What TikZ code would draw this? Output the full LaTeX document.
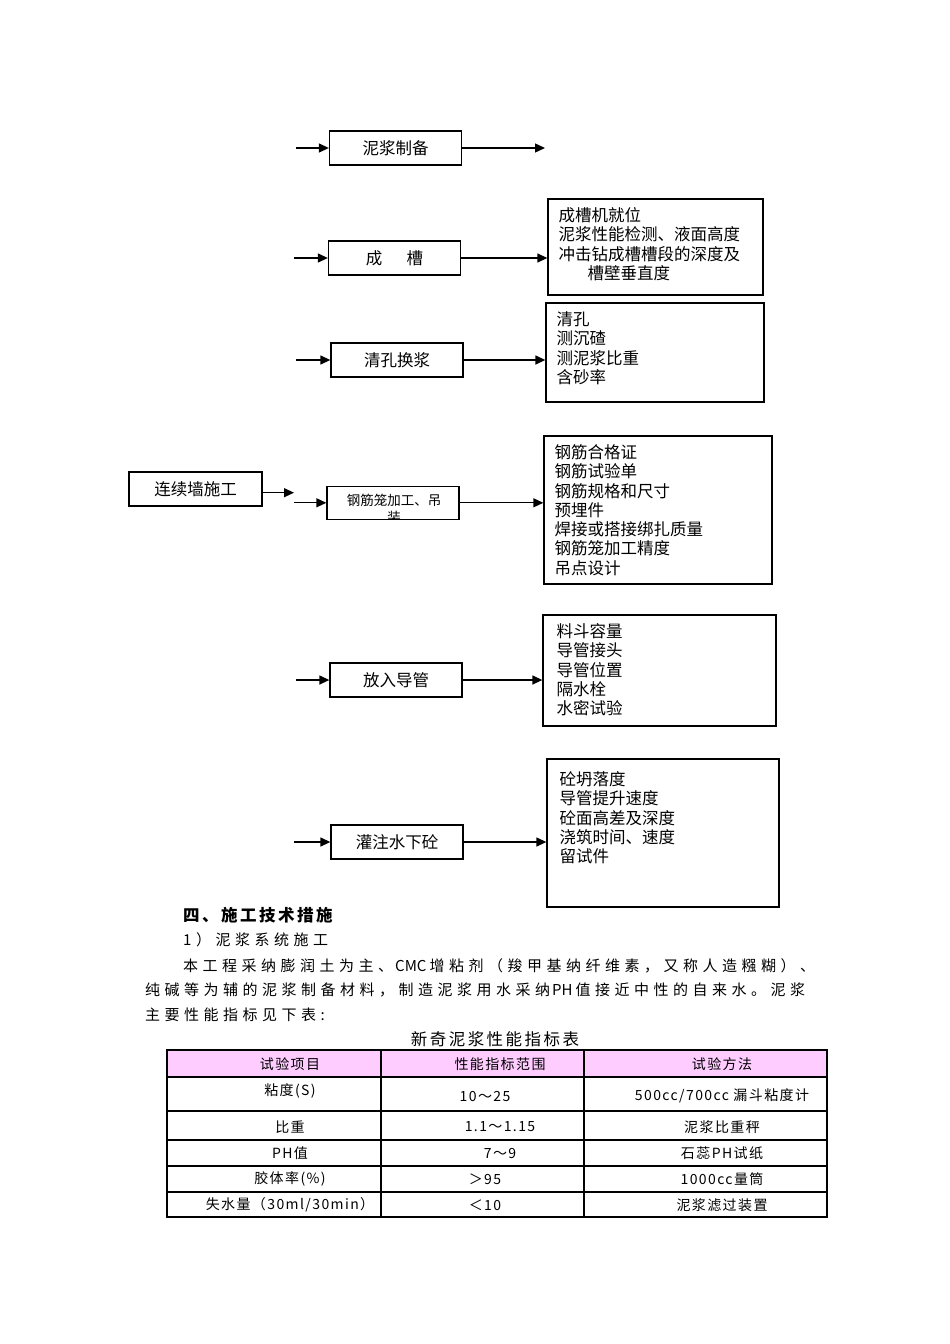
\documentclass[tikz,border=0pt]{standalone}
\usepackage{fontspec}
\usepackage{tikz}
\usepackage{xcolor}
\usetikzlibrary{arrows.meta}
\usetikzlibrary{positioning}
\newfontfamily\cjk{Noto Sans CJK SC}
\newfontfamily\cjkwide{Noto Sans CJK SC}[LetterSpace=30]
\newfontfamily\cjkmid{Noto Sans CJK SC}[LetterSpace=15]
\newfontfamily\cjkcell{Noto Sans CJK SC}[LetterSpace=10]
\newcommand{\stepfont}{\cjk\fontsize{16.5}{19.3}\selectfont}
\newcommand{\cagefont}{\cjk\fontsize{13.5}{17}\selectfont}
\newcommand{\secfont}{\cjkmid\fontsize{16.5}{20}\selectfont}
\newcommand{\parafont}{\cjkwide\fontsize{15}{20}\selectfont}
\newcommand{\tblfont}{\cjkcell\fontsize{14}{17}\selectfont}
\definecolor{hdrpink}{RGB}{255,204,255}
\tikzset{>={Triangle[length=10pt,width=9pt]}}
\tikzset{
  stepbox/.style={rectangle,draw,line width=1.3pt,minimum width=132pt,minimum height=34pt,inner sep=0pt,font=\stepfont},
  checkbox/.style={rectangle,draw,line width=1.3pt,inner sep=0pt},
  checktxt/.style={inner sep=0pt,align=left,font=\stepfont},
  flow/.style={->,line width=1.3pt},
  paratxt/.style={anchor=west,inner sep=0pt,font=\parafont},
  celltxt/.style={inner sep=0pt,font=\tblfont},
  tblrule/.style={line width=1.3pt}
}

\begin{document}
\begin{tikzpicture}[x=1pt,y=-1pt]
    \fill [white] (0,0) rectangle (950,1344);
    \useasboundingbox (0,0) rectangle (950,1344);

    % process steps
    \node at (395.5,148) [stepbox] (mud) {泥浆制备};
    \node at (394.5,258) [stepbox] (trench) {成\hspace{24.5pt}槽};
    \node at (397,360) [stepbox] (clean) {清孔换浆};
    \node at (195.5,489) [stepbox,minimum width=133pt] (wall) {连续墙施工};
    \node at (393,502.8) [stepbox,minimum height=33pt] (cage) {};
    \node at (396,680) [stepbox] (pipe) {放入导管};
    \node at (397,842) [stepbox] (pour) {灌注水下砼};
    \begin{scope}
      \clip (cage.south west) rectangle (cage.north east);
      \node at (394,509) [align=center,inner sep=0pt,font=\cagefont] (cagetxt) {钢筋笼加工、吊\\装};
    \end{scope}

    % check lists
    \node at (655.5,247) [checkbox,minimum width=215pt,minimum height=96pt] (chkA) {};
    \node [checktxt,below right=9pt and 11pt of chkA.north west] (chkAtxt)
      {成槽机就位\\泥浆性能检测、液面高度\\冲击钻成槽槽段的深度及\\\hspace*{29pt}槽壁垂直度};
    \node at (655,352.5) [checkbox,minimum width=218pt,minimum height=99pt] (chkB) {};
    \node [checktxt,below right=9pt and 11pt of chkB.north west] (chkBtxt)
      {清孔\\测沉碴\\测泥浆比重\\含砂率};
    \node at (658,510) [checkbox,minimum width=228pt,minimum height=148pt] (chkC) {};
    \node [checktxt,below right=9pt and 11pt of chkC.north west] (chkCtxt)
      {钢筋合格证\\钢筋试验单\\钢筋规格和尺寸\\预埋件\\焊接或搭接绑扎质量\\钢筋笼加工精度\\吊点设计};
    \node at (659.5,670.5) [checkbox,minimum width=233pt,minimum height=111pt] (chkD) {};
    \node [checktxt,below right=9pt and 14pt of chkD.north west] (chkDtxt)
      {料斗容量\\导管接头\\导管位置\\隔水栓\\水密试验};
    \node at (663,833) [checkbox,minimum width=232pt,minimum height=148pt] (chkE) {};
    \node [checktxt,below right=13pt and 13pt of chkE.north west] (chkEtxt)
      {砼坍落度\\导管提升速度\\砼面高差及深度\\浇筑时间、速度\\留试件};

    % free arrow ends
    \coordinate (mudin) at (296,148);
    \coordinate (mudout) at (545,148);
    \coordinate (trenchin) at (294,258);
    \coordinate (cleanin) at (296,360);
    \coordinate (wallout) at (294,492.7);
    \coordinate (cagein) at (294,502.8);
    \coordinate (pipein) at (296,680);
    \coordinate (pourin) at (294,842);

    \draw [flow] (mudin) -- (mud);
    \draw [flow] (mud) -- (mudout);
    \draw [flow] (trenchin) -- (trench);
    \draw [flow] (trench) -- (trench.east -| chkA.west);
    \draw [flow] (cleanin) -- (clean);
    \draw [flow] (clean) -- (clean.east -| chkB.west);
    \draw [flow] (wall.east |- wallout) -- (wallout);
    \draw [flow] (cagein) -- (cage);
    \draw [flow] (cage) -- (cage.east -| chkC.west);
    \draw [flow] (pipein) -- (pipe);
    \draw [flow] (pipe) -- (pipe.east -| chkD.west);
    \draw [flow] (pourin) -- (pour);
    \draw [flow] (pour) -- (pour.east -| chkE.west);

    % text below the chart
    \node at (183,915) [paratxt,font=\secfont\bfseries] (sec) {四、施工技术措施};
    \node at (183,940) [paratxt] (subsec) {1）泥浆系统施工};
    \node at (183,966) [paratxt] (parA) {本工程采纳膨润土为主、\hspace{2pt}{\cjk CMC}\hspace{3pt}增粘剂（羧甲基纳纤维素，又称人造糨糊）、};
    \node at (145,990) [paratxt] (parB) {纯碱等为辅的泥浆制备材料，制造泥浆用水采纳\hspace{2pt}{\cjk PH}\hspace{3pt}值接近中性的自来水。泥浆};
    \node at (145,1015) [paratxt] (parC) {主要性能指标见下表:};
    \node at (495,1039) [inner sep=0pt,font=\secfont] (tbltitle) {新奇泥浆性能指标表};

    % table
    \fill [hdrpink] (167,1050) rectangle (827,1077);
    \draw [tblrule] (167,1050) rectangle (827,1217);
    \draw [tblrule] (167,1077) -- (827,1077);
    \draw [tblrule] (167,1111) -- (827,1111);
    \draw [tblrule] (167,1140) -- (827,1140);
    \draw [tblrule] (167,1166) -- (827,1166);
    \draw [tblrule] (167,1192) -- (827,1192);
    \draw [tblrule] (381,1050) -- (381,1217);
    \draw [tblrule] (584,1050) -- (584,1217);

    \node at (290,1064) [celltxt] (hitem) {试验项目};
    \node at (500,1064) [celltxt] (hrange) {性能指标范围};
    \node at (722,1064) [celltxt] (hmethod) {试验方法};
    \node at (290,1091) [celltxt] (visc) {粘度(S)};
    \node at (485,1096) [celltxt] (viscr) {10～25};
    \node at (722,1096) [celltxt] (viscm) {500cc/700cc 漏斗粘度计};
    \node at (290,1127) [celltxt] (dens) {比重};
    \node at (500,1127) [celltxt] (densr) {1.1～1.15};
    \node at (722,1127) [celltxt] (densm) {泥浆比重秤};
    \node at (290,1153) [celltxt] (ph) {PH值};
    \node at (500,1153) [celltxt] (phr) {7～9};
    \node at (722,1153) [celltxt] (phm) {石蕊PH试纸};
    \node at (290,1179) [celltxt] (coll) {胶体率(\%)};
    \node at (485,1179) [celltxt] (collr) {＞95};
    \node at (722,1179) [celltxt] (collm) {1000cc量筒};
    \node at (290,1205) [celltxt] (loss) {失水量（30ml/30min）};
    \node at (485,1205) [celltxt] (lossr) {＜10};
    \node at (722,1205) [celltxt] (lossm) {泥浆滤过装置};
\end{tikzpicture}
\end{document}
